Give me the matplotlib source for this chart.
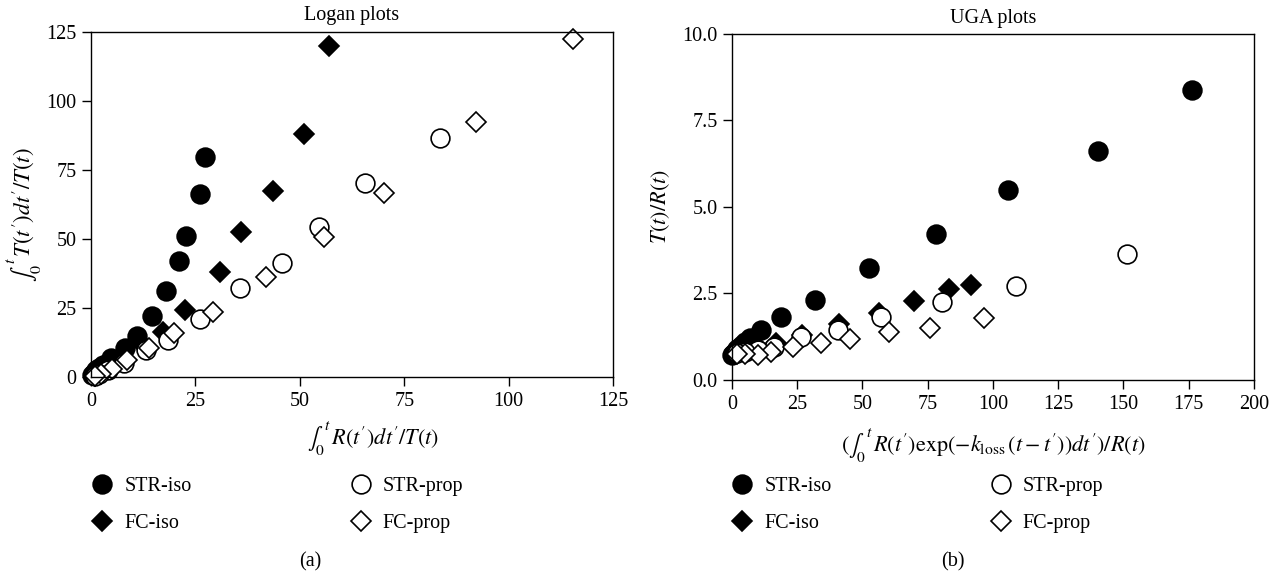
import numpy as np
import matplotlib
matplotlib.use('Agg')
import matplotlib.pyplot as plt

# Logan plots (a)
logan_str_iso_x = [27.4, 26.1, 22.7, 21.0, 17.9, 14.7, 11.1, 8.2, 4.7, 2.8, 1.8, 1.3, 0.8, 0.3]
logan_str_iso_y = [79.7, 66.5, 51.2, 42.1, 31.0, 22.2, 14.7, 10.5, 6.9, 4.5, 3.2, 2.7, 1.5, 0.6]
logan_fc_iso_x = [57.0, 51.0, 43.6, 36.0, 30.9, 22.6, 17.3, 12.6, 7.0, 4.0, 2.0, 1.0]
logan_fc_iso_y = [119.9, 87.9, 67.5, 52.4, 37.9, 24.4, 16.3, 11.1, 6.0, 3.0, 1.5, 0.5]
logan_str_prop_x = [83.6, 65.7, 54.6, 45.7, 35.6, 26.0, 18.5, 13.1, 7.9, 4.0, 2.0, 1.0]
logan_str_prop_y = [86.8, 70.3, 54.4, 41.5, 32.2, 21.1, 13.5, 9.9, 5.1, 2.5, 1.0, 0.3]
logan_fc_prop_x = [115.4, 92.1, 70.1, 55.8, 42.0, 29.3, 19.9, 14.0, 8.6, 5.0, 2.5, 1.0]
logan_fc_prop_y = [122.4, 92.4, 66.8, 50.6, 36.2, 23.7, 15.9, 10.5, 6.3, 3.0, 1.2, 0.4]

# UGA plots (b)
uga_str_iso_x = [176.3, 140.3, 105.8, 78.3, 52.4, 32.0, 18.9, 11.2, 7.0, 5.0, 4.0, 3.0, 2.0, 1.5, 1.0, 0.5, 0.2]
uga_str_iso_y = [8.38, 6.62, 5.48, 4.22, 3.25, 2.30, 1.81, 1.45, 1.2, 1.1, 1.0, 0.95, 0.9, 0.85, 0.8, 0.75, 0.72]
uga_fc_iso_x = [91.7, 83.2, 69.7, 56.3, 41.0, 27.0, 16.7, 10.5, 6.0, 3.0, 1.5]
uga_fc_iso_y = [2.75, 2.62, 2.27, 1.93, 1.61, 1.30, 1.08, 0.92, 0.85, 0.80, 0.78]
uga_str_prop_x = [151.5, 108.7, 80.3, 57.1, 40.7, 26.5, 16.2, 10.0, 5.0, 2.0]
uga_str_prop_y = [3.65, 2.72, 2.24, 1.81, 1.45, 1.25, 0.96, 0.87, 0.82, 0.78]
uga_fc_prop_x = [96.6, 75.7, 60.2, 45.4, 34.3, 23.2, 15.1, 10.0, 5.0, 2.0]
uga_fc_prop_y = [1.78, 1.49, 1.38, 1.18, 1.06, 0.96, 0.82, 0.72, 0.75, 0.74]

labels = ['STR-iso', 'FC-iso', 'STR-prop', 'FC-prop']

plt.rcParams['font.family'] = ['Liberation Serif', 'DejaVu Serif']
plt.rcParams['mathtext.fontset'] = 'stix'
plt.rcParams['font.size'] = 14.5

fig = plt.figure(figsize=(12.75, 5.73), dpi=100)
ax1 = fig.add_axes([0.0714, 0.342, 0.4094, 0.602])
ax2 = fig.add_axes([0.5741, 0.3368, 0.4094, 0.604])


def draw(ax, sets):
    styles = [dict(marker='o', ms=13.5, mfc='black', mec='black'),
              dict(marker='D', ms=10, mfc='black', mec='black'),
              dict(marker='o', ms=13.5, mfc='white', mec='black'),
              dict(marker='D', ms=10, mfc='white', mec='black')]
    handles = []
    for (x, y), st, lab in zip(sets, styles, labels):
        h, = ax.plot(x, y, ls='none', mew=1.2, clip_on=False, label=lab, **st)
        handles.append(h)
    ax.tick_params(direction='out', length=6.5, width=1, labelsize=14.5, pad=4)
    for s in ax.spines.values():
        s.set_linewidth(1)
    return handles


h1 = draw(ax1, [(logan_str_iso_x, logan_str_iso_y), (logan_fc_iso_x, logan_fc_iso_y),
                (logan_str_prop_x, logan_str_prop_y), (logan_fc_prop_x, logan_fc_prop_y)])
ax1.set_xlim(0, 125)
ax1.set_ylim(0, 125)
ax1.set_xticks([0, 25, 50, 75, 100, 125])
ax1.set_yticks([0, 25, 50, 75, 100, 125])
ax1.set_title('Logan plots', fontsize=14.5, pad=9)
ax1.set_xlabel(r"$\int_0^{\,t}\, R(t')dt'/T(t)$", fontsize=16)
ax1.xaxis.set_label_coords(0.54, -0.125)
ax1.set_ylabel(r"$\int_0^{\,t}\, T(t')dt'/T(t)$", fontsize=16.5)
ax1.yaxis.set_label_coords(-0.09, 0.47)

h2 = draw(ax2, [(uga_str_iso_x, uga_str_iso_y), (uga_fc_iso_x, uga_fc_iso_y),
                (uga_str_prop_x, uga_str_prop_y), (uga_fc_prop_x, uga_fc_prop_y)])
ax2.set_xlim(0, 200)
ax2.set_ylim(0, 10)
ax2.set_xticks([0, 25, 50, 75, 100, 125, 150, 175, 200])
ax2.set_yticks([0, 2.5, 5.0, 7.5, 10.0])
ax2.set_yticklabels(['0.0', '2.5', '5.0', '7.5', '10.0'])
ax2.set_title('UGA plots', fontsize=14.5, pad=8)
ax2.set_xlabel(r"$(\int_0^{\,t}\, R(t')\exp(-k_{\rm loss}\,(t-t'))dt')/R(t)$", fontsize=16)
ax2.xaxis.set_label_coords(0.5, -0.135)
ax2.set_ylabel(r"$T(t)/R(t)$", fontsize=16)
ax2.yaxis.set_label_coords(-0.115, 0.5)

leg_kw = dict(loc='upper left', ncol=2, frameon=False, handlelength=1, handletextpad=0.6,
              columnspacing=7.9, labelspacing=0.9, fontsize=14.5, borderaxespad=0, borderpad=0)
fig.legend(h1, labels, bbox_to_anchor=(92 / 1275, 1 - 477 / 573), **leg_kw)
fig.legend(h2, labels, bbox_to_anchor=(732 / 1275, 1 - 477 / 573), **leg_kw)

fig.text(310 / 1275, 1 - 562 / 573, '(a)', ha='center', va='center', fontsize=14.5)
fig.text(953 / 1275, 1 - 562 / 573, '(b)', ha='center', va='center', fontsize=14.5)

fig.savefig('out.png', dpi=100)
